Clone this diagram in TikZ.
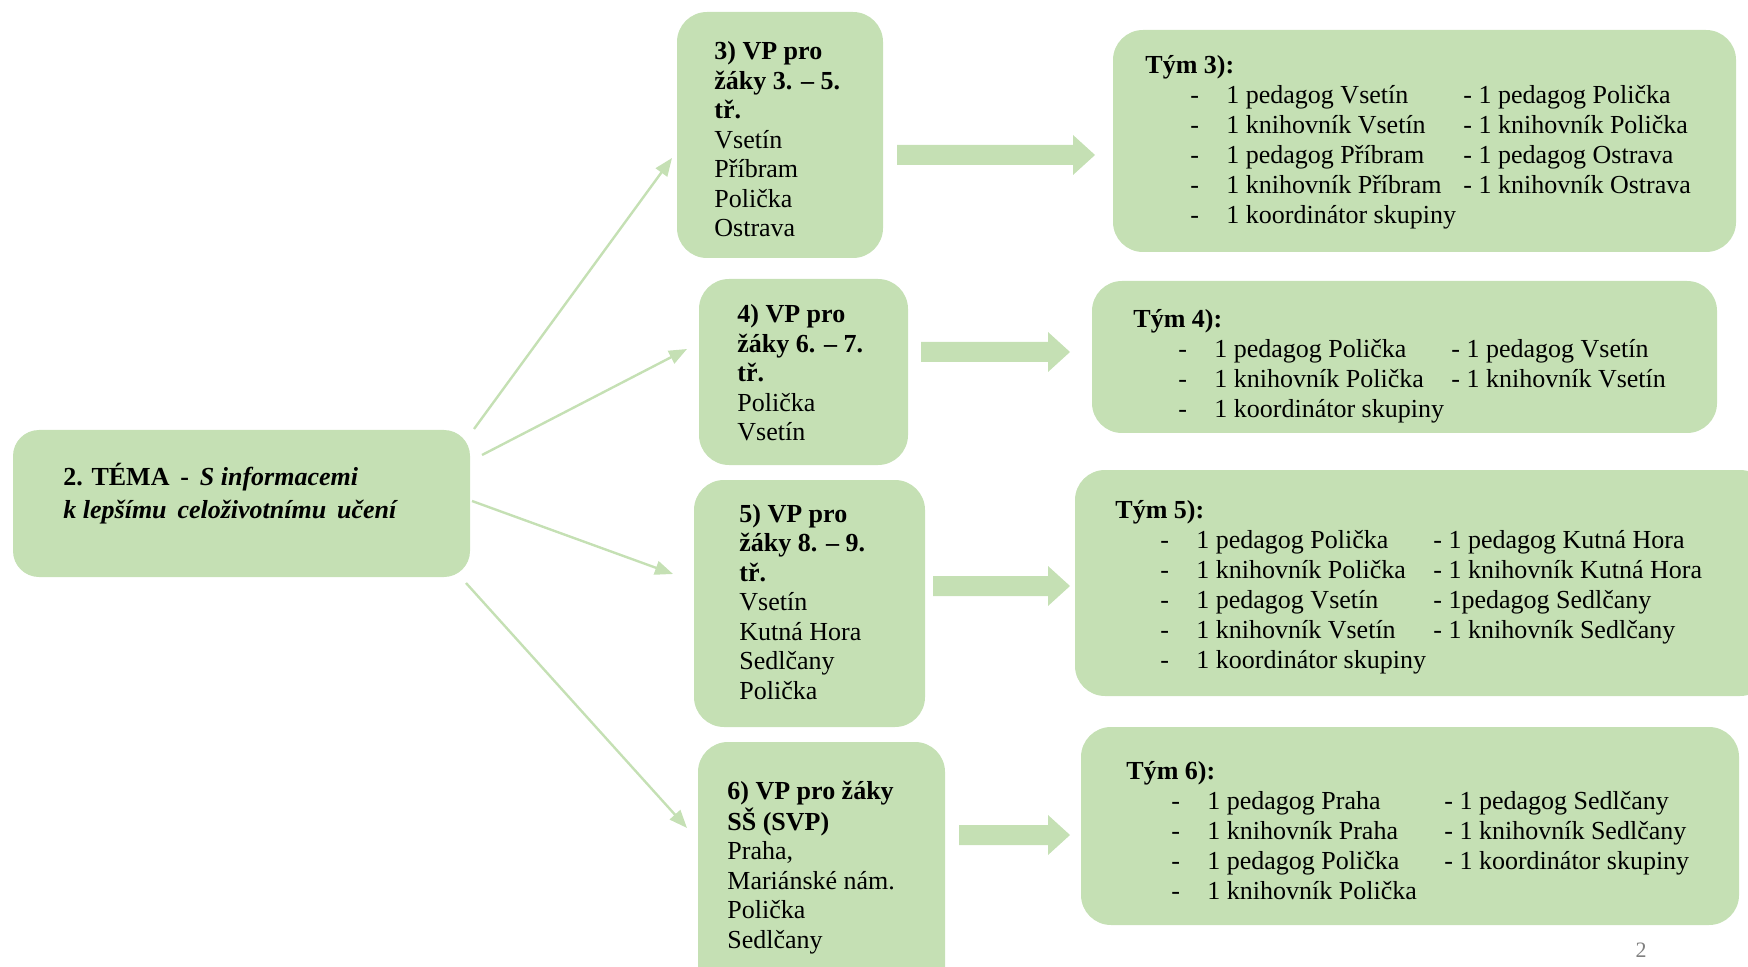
\documentclass[tikz,border=0pt]{standalone}
\usepackage{fontspec}
\setmainfont{Liberation Serif}
\usetikzlibrary{arrows.meta}
\definecolor{lg}{HTML}{C5E0B4}
\newcommand\teamtab[2]{{\setlength\tabcolsep{0pt}\begin{tabular}[t]{p{22.5pt}p{18pt}p{118.5pt}l}\multicolumn{4}{l}{\textbf{#1}}\\#2\end{tabular}}}
\newcommand\boxtab[1]{{\setlength\tabcolsep{0pt}\begin{tabular}[t]{l}#1\end{tabular}}}
\newcommand\blockarr[3]{\fill[lg] (#1,#3-10) -- (#2-22,#3-10) -- (#2-22,#3-20) -- (#2,#3) -- (#2-22,#3+20) -- (#2-22,#3+10) -- (#1,#3+10) -- cycle;}
\begin{document}
\begin{tikzpicture}[x=0.5pt,y=-0.5pt,
  box/.style={fill=lg, draw=none, rounded corners=15pt, inner sep=0pt},
  btxt/.style={inner sep=0pt, anchor=base west, font=\fontsize{13}{14.75}\selectfont},
  ttxt/.style={inner sep=0pt, anchor=base west, font=\fontsize{13}{15}\selectfont},
  thinarr/.style={draw=lg, line width=1.2pt, -{Triangle[length=9pt,width=7pt]}},
]
\useasboundingbox (0,0) rectangle (1748,967);
\clip (0,0) rectangle (1748,967);

% boxes
\node[box, rounded corners=13pt, minimum width=228.5pt, minimum height=73.5pt] (m) at (241.5,503.5) {};
\node[box, minimum width=103pt, minimum height=123pt] (b3) at (780,135) {};
\node[box, minimum width=104.5pt, minimum height=93pt] (b4) at (803.5,372) {};
\node[box, minimum width=115.5pt, minimum height=123.5pt] (b5) at (809.5,603.5) {};
\node[box, minimum width=123.5pt, minimum height=129pt] (b6) at (821.5,871) {};
\node[box, minimum width=311.5pt, minimum height=111pt] (t3) at (1424.5,141) {};
\node[box, minimum width=312.5pt, minimum height=76pt] (t4) at (1404.5,357) {};
\node[box, minimum width=347.5pt, minimum height=113pt] (t5) at (1422.5,583) {};
\node[box, minimum width=329pt, minimum height=99pt] (t6) at (1410,826) {};

% main text
\node[btxt] (mtxt) at (63,485) {\boxtab{\textbf{2. TÉMA} \,\textbf{-} \,\textbf{\textit{S informacemi}}\\[2pt]\textbf{\textit{k lepšímu \,celoživotnímu \,učení}}}};

% column boxes text
\node[btxt] (b3txt) at (714,60) {\boxtab{\textbf{3) VP pro}\\\textbf{žáky 3. – 5.}\\\textbf{tř.}\\Vsetín\\Příbram\\Polička\\Ostrava}};
\node[btxt] (b4txt) at (737,323) {\boxtab{\textbf{4) VP pro}\\\textbf{žáky 6. – 7.}\\\textbf{tř.}\\Polička\\Vsetín}};
\node[btxt] (b5txt) at (739,522) {\boxtab{\textbf{5) VP pro}\\\textbf{žáky 8. – 9.}\\\textbf{tř.}\\Vsetín\\Kutná Hora\\Sedlčany\\Polička}};
\node[btxt] (b6txt) at (727,799) {\boxtab{\textbf{6) VP pro žáky}\\\textbf{SŠ (SVP)}\\Praha,\\Mariánské nám.\\Polička\\Sedlčany}};

% team texts
\node[ttxt] (t3txt) at (1145,74) {\teamtab{Tým 3):}{%
 & - & 1 pedagog Vsetín & - 1 pedagog Polička\\
 & - & 1 knihovník Vsetín & - 1 knihovník Polička\\
 & - & 1 pedagog Příbram & - 1 pedagog Ostrava\\
 & - & 1 knihovník Příbram & - 1 knihovník Ostrava\\
 & - & 1 koordinátor skupiny & }};
\node[ttxt] (t4txt) at (1133,328) {\teamtab{Tým 4):}{%
 & - & 1 pedagog Polička & - 1 pedagog Vsetín\\
 & - & 1 knihovník Polička & - 1 knihovník Vsetín\\
 & - & 1 koordinátor skupiny & }};
\node[ttxt] (t5txt) at (1115,518) {\teamtab{Tým 5):}{%
 & - & 1 pedagog Polička & - 1 pedagog Kutná Hora\\
 & - & 1 knihovník Polička & - 1 knihovník Kutná Hora\\
 & - & 1 pedagog Vsetín & - 1pedagog Sedlčany\\
 & - & 1 knihovník Vsetín & - 1 knihovník Sedlčany\\
 & - & 1 koordinátor skupiny & }};
\node[ttxt] (t6txt) at (1126,779) {\teamtab{Tým 6):}{%
 & - & 1 pedagog Praha & - 1 pedagog Sedlčany\\
 & - & 1 knihovník Praha & - 1 knihovník Sedlčany\\
 & - & 1 pedagog Polička & - 1 koordinátor skupiny\\
 & - & 1 knihovník Polička & }};

% thin arrows
\coordinate (s3) at (474,429);
\coordinate (e3) at (672,158);
\coordinate (s4) at (482,455);
\coordinate (e4) at (687,349);
\coordinate (s5) at (472,501);
\coordinate (e5) at (673,574);
\coordinate (s6) at (466,583);
\coordinate (e6) at (687,828);
\draw[thinarr] (s3) -- (e3);
\draw[thinarr] (s4) -- (e4);
\draw[thinarr] (s5) -- (e5);
\draw[thinarr] (s6) -- (e6);

% block arrows
\blockarr{897}{1095}{155}
\blockarr{921}{1070}{352}
\blockarr{933}{1070}{586}
\blockarr{959}{1070}{835}

% page number
\node[inner sep=0pt, text=gray, font=\fontsize{11}{13}\selectfont] (pg) at (1641,950) {2};
\end{tikzpicture}
\end{document}
